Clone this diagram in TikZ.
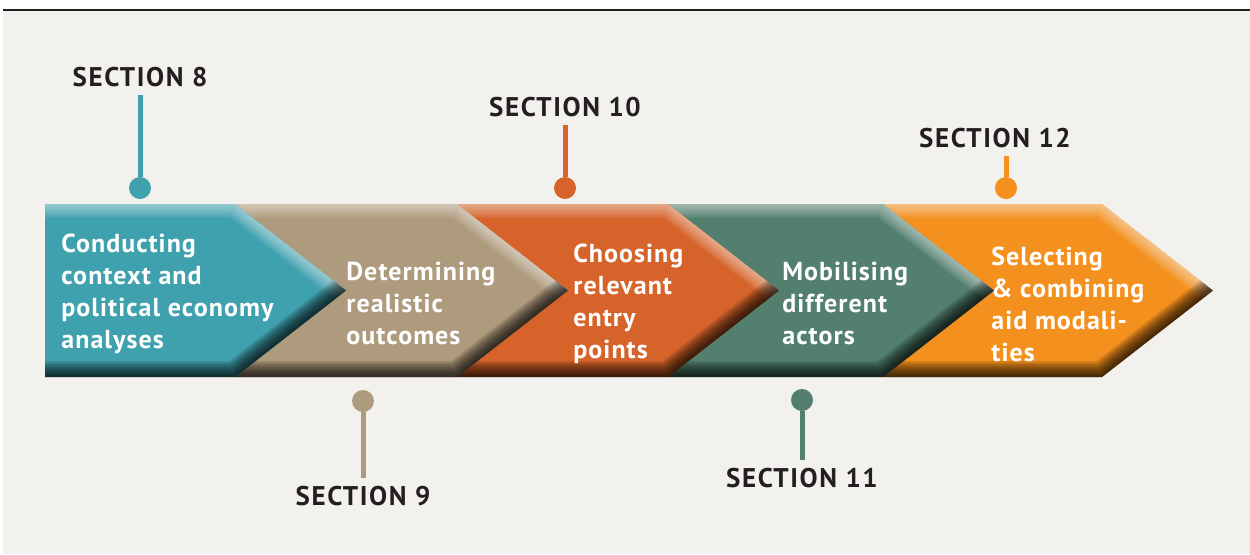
\documentclass[tikz,border=0pt]{standalone}
\usepackage{fontspec}
\setmainfont{PT Sans}
\newfontfamily\secfont[LetterSpace=6]{PT Sans}
\newfontfamily\stepfont[LetterSpace=4]{PT Sans}
\usetikzlibrary{positioning}

\definecolor{bgpaper}{HTML}{F2F1ED}
\definecolor{inkdark}{HTML}{231F20}
\definecolor{tealstep}{HTML}{3FA0AE}
\definecolor{tanstep}{HTML}{AE9A7C}
\definecolor{ruststep}{HTML}{D6632A}
\definecolor{greenstep}{HTML}{527F6E}
\definecolor{orangestep}{HTML}{F4901E}

% one bevelled chevron: left edge, top corner, colour
\newcommand{\stepshape}[3]{%
  \begin{scope}
    \clip (#1,204) -- (#2,204) -- ({#2+111},290.5) -- (#2,377) -- (#1,377) -- cycle;
    \fill[#3] (#1,204) rectangle ({#2+111},377);
    \foreach \k in {1,...,10}
      \draw[white, line width=1.4*\k pt, opacity=.06] (#1,204) -- (#2,204) -- ({#2+111},290.5);
    \foreach \k in {1,...,10}
      \draw[black, line width=1.6*\k pt, opacity=.11] (#1,377) -- (#2,377) -- ({#2+111},290.5);
  \end{scope}}

\begin{document}
\begin{tikzpicture}[
    x=0.5pt, y=-0.5pt,
    steptext/.style={text=white, font=\stepfont\bfseries\fontsize{13}{16}\selectfont, align=left, anchor=west, inner sep=0pt},
    seclabel/.style={text=inkdark, font=\secfont\bfseries\fontsize{13.5}{16}\selectfont, inner sep=4pt},
    secdot/.style={circle, fill=#1, minimum size=11pt, inner sep=0pt},
    secline/.style={draw=#1, line width=2.5pt}
  ]
    \useasboundingbox (0,0) rectangle (1250,554);
    \fill[bgpaper] (3,11) rectangle (1250,554);
    \draw[inkdark, line width=1pt] (3,9.5) -- (1250,9.5);

    % chevrons, back to front
    \foreach \l/\c/\col in {883/1102/orangestep, 668/883/greenstep, 457/668/ruststep, 235/457/tanstep, 45/235/tealstep}
      \stepshape{\l}{\c}{\col};

    \node [steptext] (context) at (61,294) {Conducting\\context and\\political economy\\analyses};
    \node [steptext] (outcomes) at (346,303) {Determining\\realistic\\outcomes};
    \node [steptext] (entry) at (573,304) {Choosing\\relevant\\entry\\points};
    \node [steptext] (actors) at (782,303) {Mobilising\\different\\actors};
    \node [steptext] (modalities) at (991,304) {Selecting\\\& combining\\aid modali-\\ties};

    % section markers
    \node [seclabel] (sec8) at (140,77) {SECTION 8};
    \node [secdot=tealstep] (dot8) at (140,188) {};
    \node [seclabel] (sec9) at (363,496) {SECTION 9};
    \node [secdot=tanstep] (dot9) at (363,401) {};
    \node [seclabel] (sec10) at (565,107) {SECTION 10};
    \node [secdot=ruststep] (dot10) at (565,188) {};
    \node [seclabel] (sec11) at (802,478) {SECTION 11};
    \node [secdot=greenstep] (dot11) at (802,400) {};
    \node [seclabel] (sec12) at (995,138) {SECTION 12};
    \node [secdot=orangestep] (dot12) at (1006,188) {};

    \draw [secline=tealstep] (dot8) -- (dot8 |- sec8.south);
    \draw [secline=tanstep] (dot9) -- (dot9 |- sec9.north);
    \draw [secline=ruststep] (dot10) -- (dot10 |- sec10.south);
    \draw [secline=greenstep] (dot11) -- (dot11 |- sec11.north);
    \draw [secline=orangestep] (dot12) -- (dot12 |- sec12.south);
\end{tikzpicture}
\end{document}
